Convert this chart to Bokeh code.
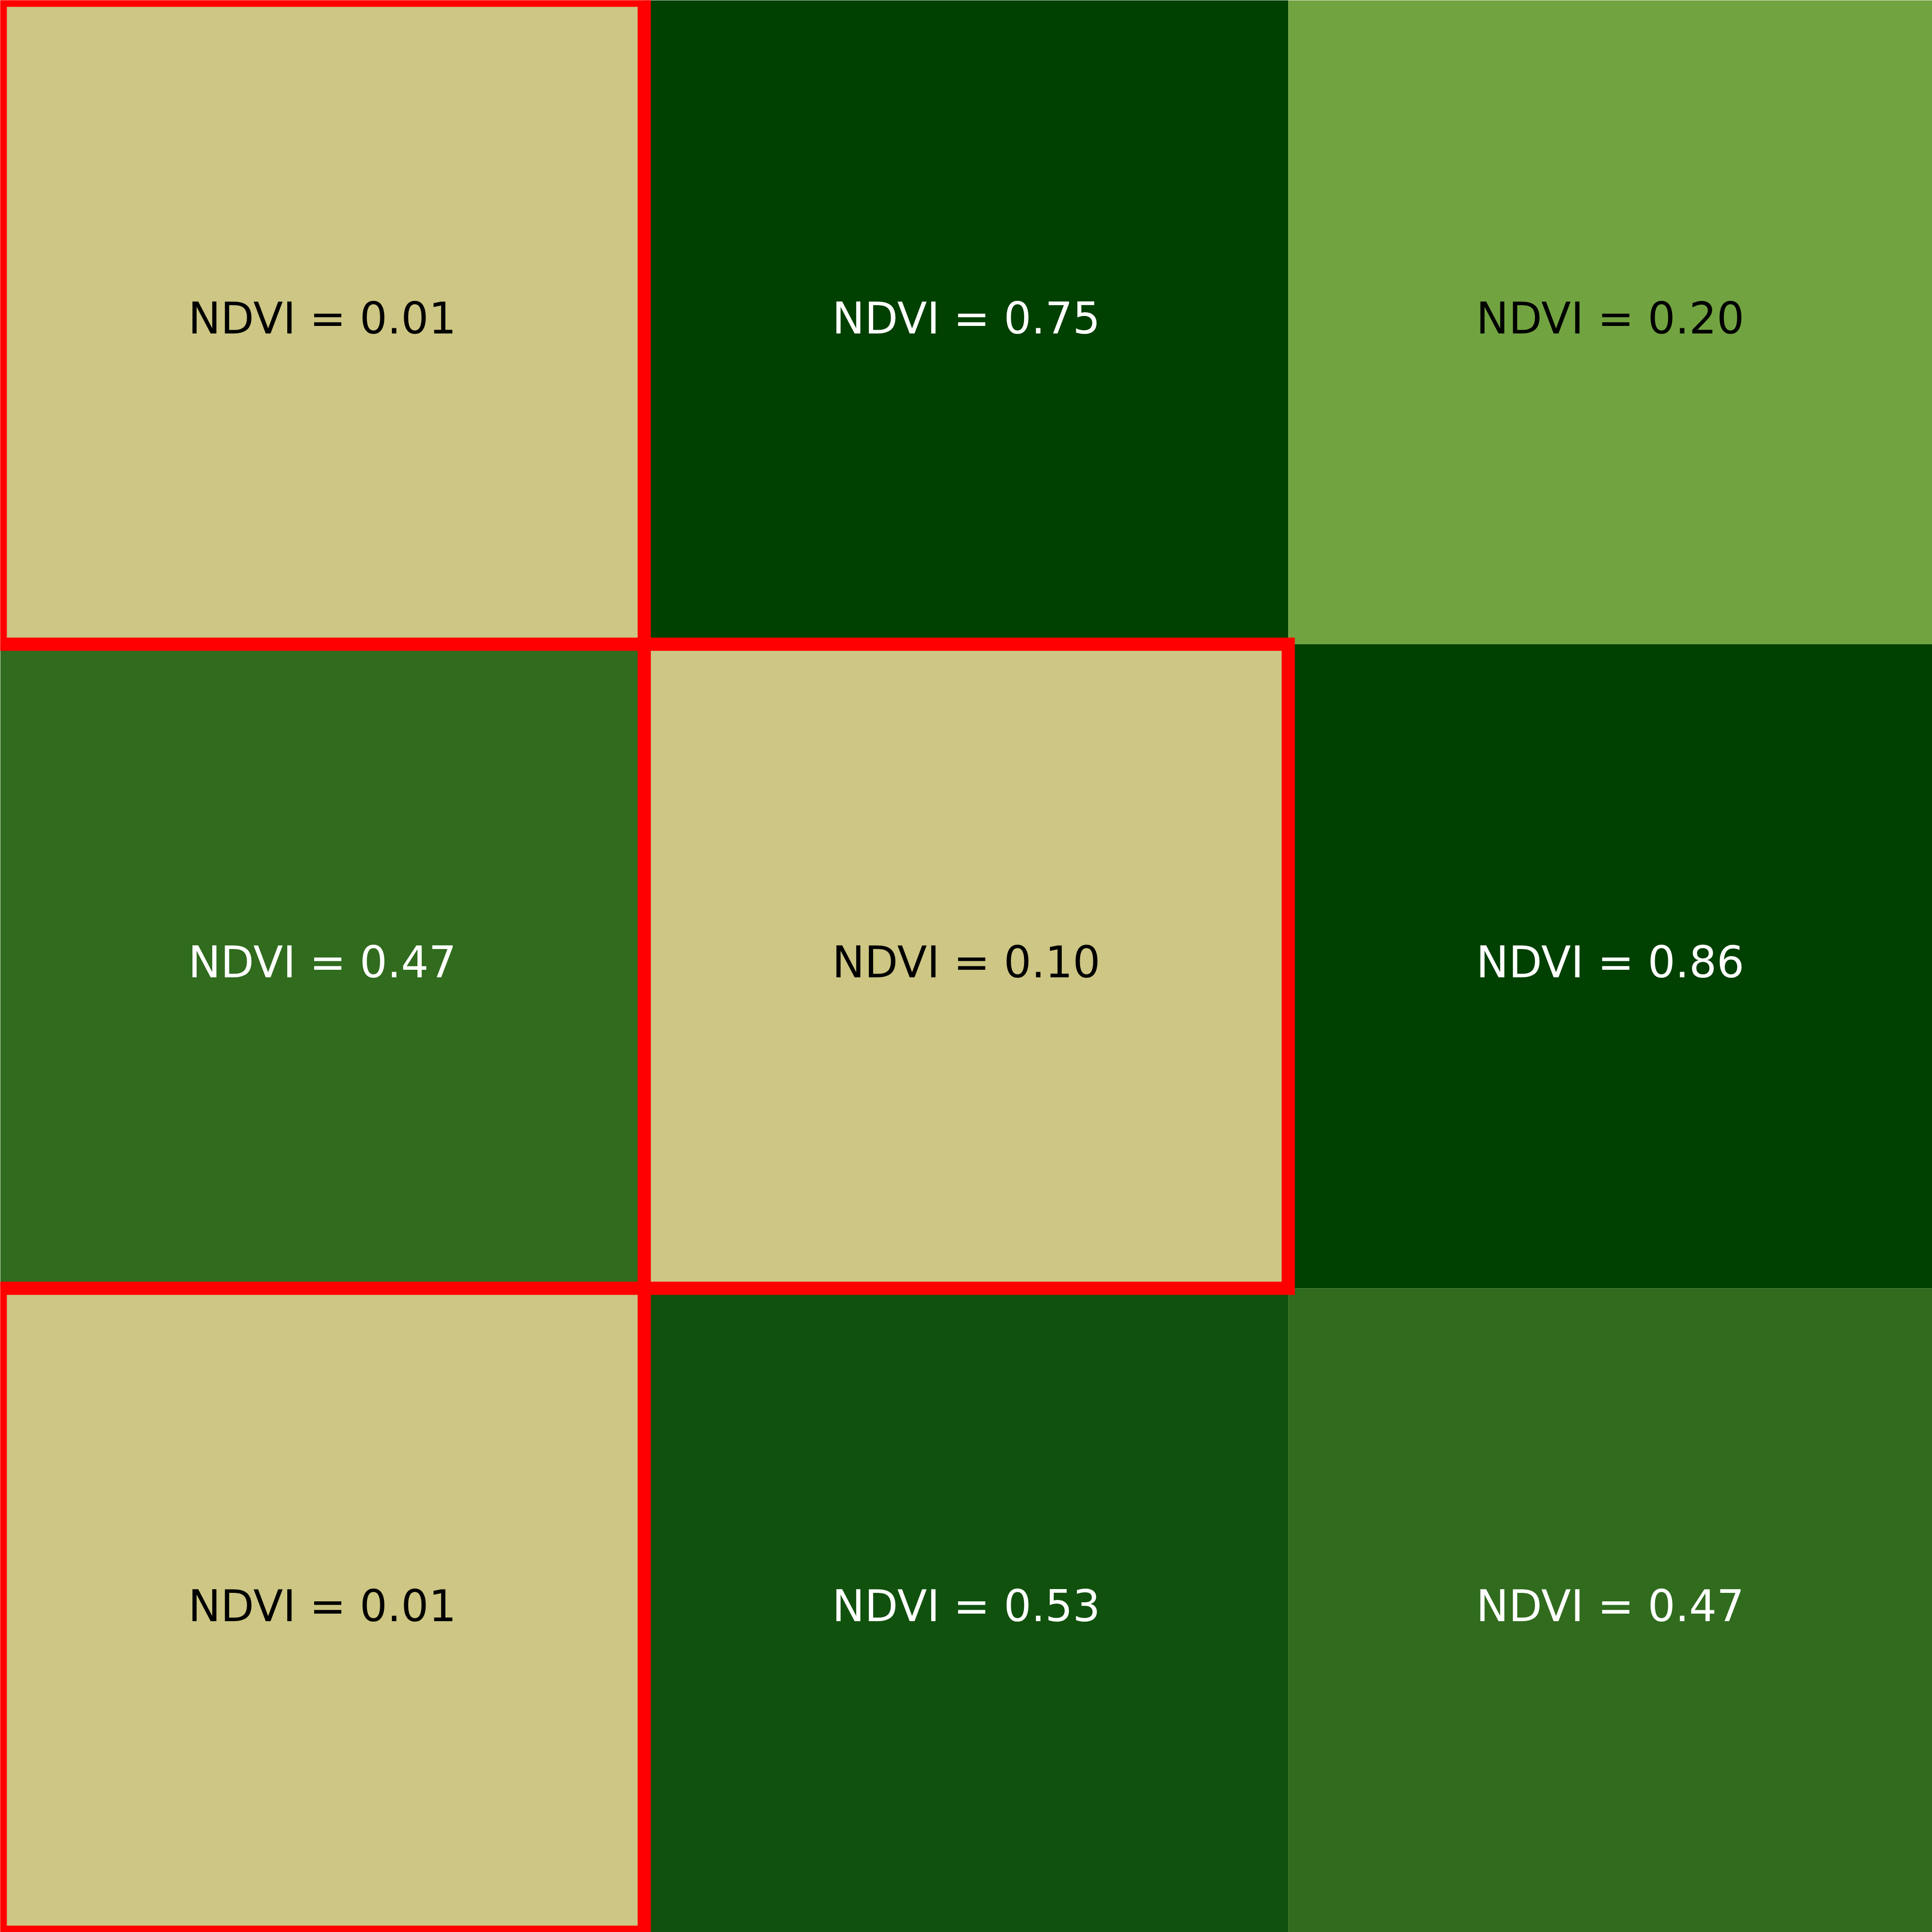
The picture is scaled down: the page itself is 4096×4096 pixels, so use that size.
from bokeh.plotting import figure
from bokeh.models import ColumnDataSource, Range1d
from bokeh.core.properties import value
from bokeh.embed import file_html
from bokeh.resources import INLINE

# Data
cols = [0, 1, 2, 0, 1, 2, 0, 1, 2]
rows = [0, 0, 0, 1, 1, 1, 2, 2, 2]  # 0 = top row
ndvi = [0.01, 0.75, 0.20, 0.47, 0.10, 0.86, 0.01, 0.53, 0.47]
flagged = [True, False, False, False, True, False, True, False, False]

def ndvi_color(v):
    if v < 0.2:
        return "#cdc684"
    if v < 0.4:
        return "#72a341"
    if v < 0.5:
        return "#306b1e"
    if v < 0.6:
        return "#11510e"
    return "#004000"

S = 4096
x = [c + 0.5 for c in cols]
y = [3 - r - 0.5 for r in rows]
fill = [ndvi_color(v) for v in ndvi]
labels = ["NDVI = %.2f" % v for v in ndvi]
tcol = ["black" if v < 0.3 else "white" for v in ndvi]

src = ColumnDataSource(dict(x=x, y=y, fill=fill, label=labels, tcol=tcol))
fx = [xi for xi, f in zip(x, flagged) if f]
fy = [yi for yi, f in zip(y, flagged) if f]
fsrc = ColumnDataSource(dict(x=fx, y=fy))

p = figure(width=S, height=S, output_backend="svg", toolbar_location=None,
           x_range=Range1d(0, 3), y_range=Range1d(0, 3),
           min_border=0, min_border_left=0, min_border_right=0,
           min_border_top=0, min_border_bottom=0)
p.axis.visible = False
p.grid.visible = False
p.outline_line_color = None
p.background_fill_color = "white"
p.border_fill_color = "white"

p.rect(x="x", y="y", width=1, height=1, source=src, fill_color="fill",
       line_color=None)
p.rect(x="x", y="y", width=1, height=1, source=fsrc, fill_color=None,
       line_color="red", line_width=28, line_join="miter")
p.text(x="x", y="y", text="label", source=src, text_color="tcol",
       text_align="center", text_baseline="middle", y_offset=-8,
       text_font=value("DejaVu Sans"), text_font_size="92px")

open("out.html", "w").write(file_html(p, INLINE))
